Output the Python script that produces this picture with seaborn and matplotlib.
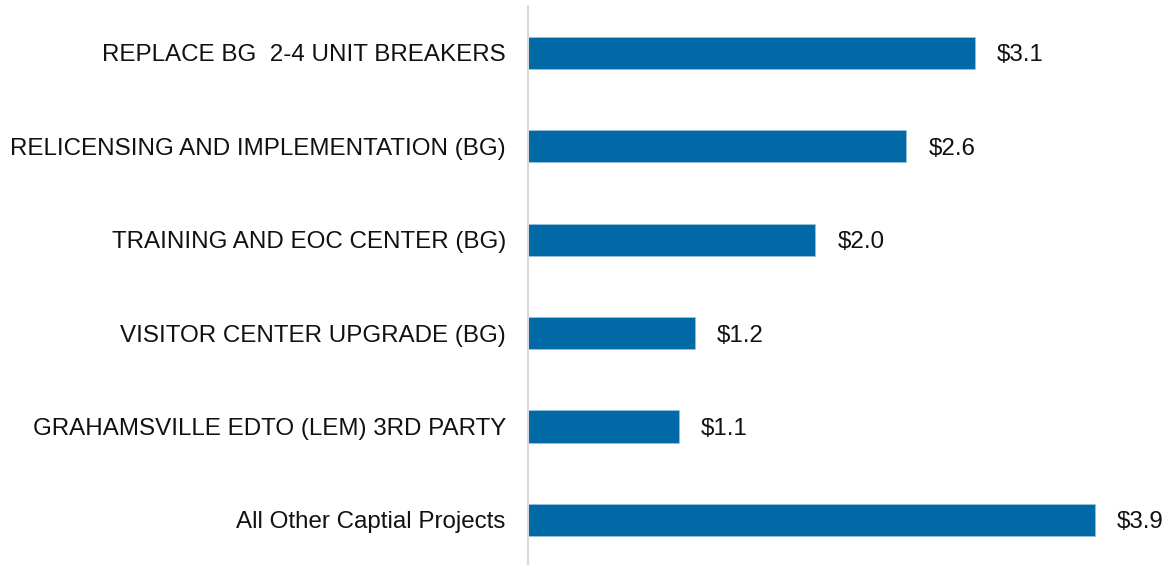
import matplotlib.pyplot as plt
import pandas as pd
import seaborn as sns

projects = ['REPLACE BG  2-4 UNIT BREAKERS',
            'RELICENSING AND IMPLEMENTATION (BG)',
            'TRAINING AND EOC CENTER (BG)',
            'VISITOR CENTER UPGRADE (BG)',
            'GRAHAMSVILLE EDTO (LEM) 3RD PARTY',
            'All Other Captial Projects']
cost = [3.08, 2.61, 1.98, 1.15, 1.04, 3.91]
cost_labels = ['$3.1', '$2.6', '$2.0', '$1.2', '$1.1', '$3.9']

df = pd.DataFrame({'Project': projects, 'Cost': cost})

sns.set_style('white')
plt.rcParams['font.family'] = ['Liberation Sans', 'DejaVu Sans']

fig = plt.figure(figsize=(11.72, 5.65), dpi=100)
ax = fig.add_axes([528 / 1172, -0.003, 623.5 / 1172, 1 - 6 / 565 + 0.003])
sns.barplot(x='Cost', y='Project', data=df, color='#0069A6', width=0.345,
            saturation=1, edgecolor='#9CC3DE', linewidth=0.5, ax=ax)

texts = ax.bar_label(ax.containers[0], labels=[s.replace('$', r'\$') for s in cost_labels],
                     padding=16, fontsize=17.4, color='#111111')
for t in texts:
    t.set_va('center_baseline')

ax.set_xlim(0, 4.3)
ax.set_ylim(5.5, -0.5)
ax.set_xlabel('')
ax.set_ylabel('')
ax.set_xticks([])
ax.tick_params(axis='y', length=0, pad=16, labelsize=17.4, labelcolor='#111111')
for side in ['top', 'right', 'bottom']:
    ax.spines[side].set_visible(False)
ax.spines['left'].set_color('#D9D9D9')
ax.spines['left'].set_linewidth(1.5)

fig.savefig('out.png', dpi=100)
